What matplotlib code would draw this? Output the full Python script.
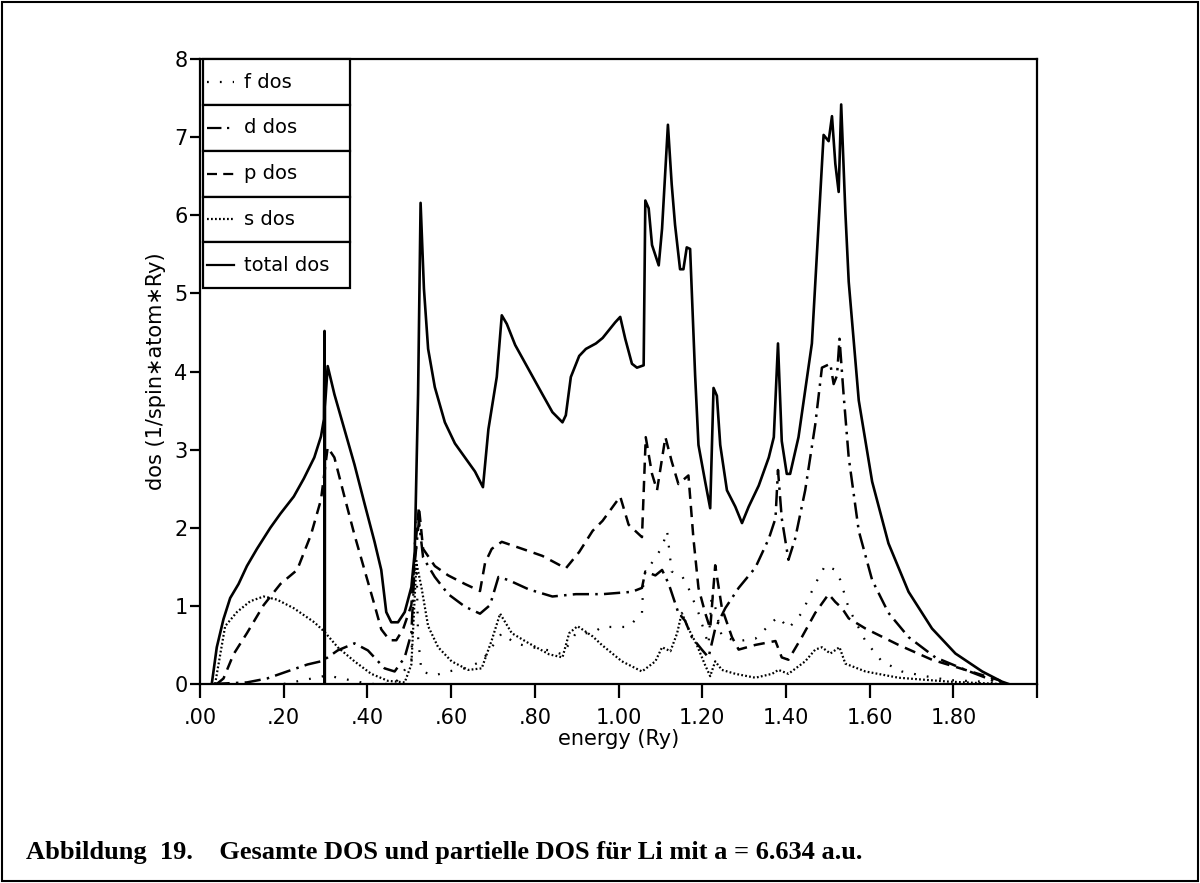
import matplotlib
matplotlib.use('Agg')
import matplotlib.pyplot as plt
from matplotlib.patches import Rectangle

# total dos
e_tot = [0.028, 0.040, 0.056, 0.072, 0.092, 0.112, 0.136, 0.168, 0.192, 0.224, 0.248, 0.273,
         0.289, 0.296, 0.2975, 0.298, 0.2985, 0.305, 0.321, 0.345, 0.369, 0.393, 0.417, 0.433,
         0.445, 0.457, 0.473, 0.489, 0.505, 0.513, 0.521, 0.527, 0.535, 0.545, 0.561, 0.585,
         0.609, 0.633, 0.657, 0.676, 0.689, 0.709, 0.721, 0.733, 0.753, 0.786, 0.818, 0.842,
         0.866, 0.874, 0.886, 0.906, 0.922, 0.946, 0.962, 0.992, 1.004, 1.016, 1.032, 1.044,
         1.060, 1.064, 1.072, 1.080, 1.096, 1.104, 1.118, 1.127, 1.135, 1.147, 1.155, 1.163,
         1.171, 1.183, 1.191, 1.207, 1.219, 1.227, 1.235, 1.243, 1.259, 1.279, 1.295, 1.311,
         1.335, 1.359, 1.371, 1.381, 1.390, 1.402, 1.410, 1.430, 1.462, 1.490, 1.502, 1.510,
         1.518, 1.526, 1.532, 1.542, 1.550, 1.574, 1.606, 1.645, 1.693, 1.749, 1.805, 1.869,
         1.916, 1.932]
dos_tot = [0.0, 0.47, 0.83, 1.10, 1.28, 1.51, 1.73, 2.00, 2.18, 2.40, 2.63, 2.90,
           3.17, 3.39, 4.52, 0.0, 3.55, 4.07, 3.71, 3.26, 2.81, 2.31, 1.82, 1.46,
           0.92, 0.79, 0.79, 0.92, 1.24, 1.69, 3.71, 6.16, 5.06, 4.29, 3.80, 3.35,
           3.08, 2.90, 2.72, 2.52, 3.26, 3.93, 4.72, 4.61, 4.34, 4.02, 3.71, 3.48,
           3.35, 3.44, 3.93, 4.20, 4.29, 4.36, 4.43, 4.63, 4.70, 4.42, 4.10, 4.05,
           4.08, 6.19, 6.09, 5.62, 5.36, 5.83, 7.16, 6.40, 5.88, 5.31, 5.31, 5.59,
           5.57, 3.95, 3.06, 2.59, 2.25, 3.79, 3.69, 3.06, 2.48, 2.27, 2.06, 2.27,
           2.54, 2.90, 3.16, 4.36, 3.11, 2.69, 2.69, 3.16, 4.36, 7.03, 6.95, 7.27,
           6.66, 6.30, 7.42, 6.04, 5.15, 3.63, 2.59, 1.80, 1.18, 0.71, 0.39, 0.16,
           0.03, 0.0]

# p dos
e_p = [0.040, 0.056, 0.080, 0.112, 0.152, 0.192, 0.232, 0.265, 0.289, 0.305, 0.321, 0.345,
       0.369, 0.393, 0.417, 0.433, 0.453, 0.469, 0.485, 0.505, 0.517, 0.523, 0.533, 0.561,
       0.593, 0.633, 0.669, 0.681, 0.697, 0.721, 0.770, 0.818, 0.874, 0.906, 0.938, 0.962,
       1.004, 1.024, 1.056, 1.065, 1.080, 1.092, 1.112, 1.127, 1.143, 1.167, 1.179, 1.191,
       1.207, 1.219, 1.231, 1.247, 1.271, 1.287, 1.327, 1.375, 1.390, 1.406, 1.438, 1.470,
       1.502, 1.518, 1.534, 1.550, 1.590, 1.669, 1.749, 1.829, 1.908, 1.924]
dos_p = [0.0, 0.07, 0.38, 0.65, 1.01, 1.28, 1.46, 1.91, 2.36, 3.03, 2.90, 2.40,
         1.91, 1.46, 1.01, 0.70, 0.56, 0.56, 0.70, 1.01, 1.91, 2.27, 1.73, 1.51,
         1.39, 1.28, 1.19, 1.55, 1.73, 1.82, 1.73, 1.64, 1.48, 1.69, 1.96, 2.09,
         2.40, 2.04, 1.88, 3.16, 2.69, 2.48, 3.16, 2.85, 2.56, 2.67, 1.86, 1.23,
         0.91, 0.71, 1.52, 0.97, 0.60, 0.44, 0.50, 0.55, 0.34, 0.31, 0.60, 0.91,
         1.15, 1.05, 0.97, 0.84, 0.71, 0.50, 0.31, 0.18, 0.05, 0.0]

# d dos
e_d = [0.032, 0.112, 0.160, 0.208, 0.257, 0.289, 0.305, 0.329, 0.369, 0.401, 0.441, 0.465,
       0.489, 0.505, 0.513, 0.523, 0.533, 0.561, 0.593, 0.633, 0.669, 0.693, 0.713, 0.737,
       0.786, 0.842, 0.898, 0.962, 1.032, 1.056, 1.064, 1.088, 1.104, 1.120, 1.143, 1.159,
       1.175, 1.199, 1.215, 1.231, 1.255, 1.287, 1.327, 1.359, 1.375, 1.381, 1.390, 1.406,
       1.422, 1.446, 1.470, 1.486, 1.506, 1.514, 1.522, 1.528, 1.538, 1.550, 1.574, 1.606,
       1.645, 1.693, 1.757, 1.829, 1.892, 1.916]
dos_d = [0.0, 0.02, 0.07, 0.16, 0.25, 0.29, 0.34, 0.43, 0.52, 0.43, 0.20, 0.16,
         0.34, 0.65, 1.55, 2.09, 1.62, 1.37, 1.15, 0.99, 0.90, 1.01, 1.37, 1.33,
         1.21, 1.12, 1.15, 1.15, 1.18, 1.23, 1.44, 1.39, 1.46, 1.28, 0.91, 0.81,
         0.60, 0.44, 0.34, 0.71, 0.97, 1.23, 1.49, 1.86, 2.12, 2.74, 2.12, 1.59,
         1.86, 2.48, 3.32, 4.05, 4.10, 3.84, 3.95, 4.42, 3.69, 2.90, 1.96, 1.33,
         0.91, 0.60, 0.34, 0.18, 0.05, 0.0]

# s dos
e_s = [0.036, 0.060, 0.088, 0.120, 0.152, 0.184, 0.224, 0.273, 0.297, 0.329, 0.369, 0.409,
       0.449, 0.489, 0.505, 0.517, 0.529, 0.545, 0.569, 0.601, 0.641, 0.673, 0.697, 0.717,
       0.745, 0.786, 0.834, 0.866, 0.882, 0.902, 0.938, 0.960, 1.008, 1.056, 1.088, 1.104,
       1.124, 1.140, 1.151, 1.167, 1.187, 1.207, 1.219, 1.231, 1.247, 1.279, 1.327, 1.367,
       1.382, 1.406, 1.446, 1.470, 1.486, 1.506, 1.528, 1.542, 1.590, 1.669, 1.789, 1.908]
dos_s = [0.0, 0.74, 0.92, 1.06, 1.12, 1.08, 0.97, 0.79, 0.67, 0.47, 0.29, 0.13,
         0.04, 0.02, 0.25, 1.55, 1.24, 0.74, 0.47, 0.29, 0.18, 0.20, 0.56, 0.90,
         0.65, 0.52, 0.38, 0.34, 0.65, 0.74, 0.61, 0.50, 0.29, 0.16, 0.29, 0.47,
         0.42, 0.65, 0.91, 0.71, 0.50, 0.24, 0.10, 0.29, 0.18, 0.13, 0.08, 0.13,
         0.18, 0.13, 0.29, 0.44, 0.47, 0.39, 0.47, 0.26, 0.16, 0.08, 0.03, 0.0]

# f dos
e_f = [0.20, 0.305, 0.337, 0.369, 0.401, 0.465, 0.505, 0.515, 0.521, 0.529, 0.561, 0.593,
       0.633, 0.673, 0.709, 0.721, 0.753, 0.794, 0.834, 0.866, 0.898, 0.938, 0.960, 1.024,
       1.056, 1.060, 1.104, 1.116, 1.127, 1.151, 1.167, 1.191, 1.215, 1.223, 1.247, 1.287,
       1.327, 1.371, 1.382, 1.406, 1.438, 1.470, 1.494, 1.518, 1.530, 1.550, 1.590, 1.629,
       1.677, 1.733, 1.789, 1.869, 1.924]
dos_f = [0.0, 0.11, 0.07, 0.04, 0.0, 0.0, 0.30, 2.10, 0.60, 0.16, 0.11, 0.16,
         0.20, 0.29, 0.56, 0.65, 0.52, 0.47, 0.43, 0.38, 0.65, 0.65, 0.73, 0.73,
         0.91, 1.39, 1.75, 1.96, 1.44, 1.39, 1.23, 0.91, 0.50, 1.18, 0.60, 0.55,
         0.58, 0.81, 0.86, 0.71, 0.91, 1.28, 1.52, 1.46, 1.33, 0.97, 0.55, 0.29,
         0.16, 0.10, 0.05, 0.03, 0.0]

x_ticks = [0.0, 0.2, 0.4, 0.6, 0.8, 1.0, 1.2, 1.4, 1.6, 1.8, 2.0]
x_labels = ['.00', '.20', '.40', '.60', '.80', '1.00', '1.20', '1.40', '1.60', '1.80', '']
y_ticks = [0, 1, 2, 3, 4, 5, 6, 7, 8]

legend_names = ['f dos', 'd dos', 'p dos', 's dos', 'total dos']

sty_f = (0, (0.8, 5.0))
sty_d = (0, (6.5, 2.5, 1.0, 2.5))
sty_p = (0, (4.5, 2.8))
sty_s = (0, (0.8, 1.0))
sty_t = '-'
styles = [sty_f, sty_d, sty_p, sty_s, sty_t]

plt.rcParams['font.family'] = ['DejaVu Sans']

fig = plt.figure(figsize=(12, 8.83), dpi=100)
ax = fig.add_axes([0.1667, 0.2254, 0.6975, 0.7076])

ax.plot(e_f, dos_f, color='black', lw=1.6, linestyle=sty_f)
ax.plot(e_s, dos_s, color='black', lw=1.6, linestyle=sty_s)
ax.plot(e_d, dos_d, color='black', lw=1.8, linestyle=sty_d)
ax.plot(e_p, dos_p, color='black', lw=1.8, linestyle=sty_p)
ax.plot(e_tot, dos_tot, color='black', lw=1.9, linestyle=sty_t)

ax.set_xlim(0, 2.0)
ax.set_ylim(0, 8)
ax.set_xticks(x_ticks)
ax.set_xticklabels(x_labels)
ax.set_yticks(y_ticks)
ax.tick_params(axis='x', direction='out', length=10, width=1.6, labelsize=15, pad=7)
ax.tick_params(axis='y', direction='out', length=7, width=1.6, labelsize=15, pad=2)
for sp in ax.spines.values():
    sp.set_linewidth(1.6)

ax.set_xlabel('energy (Ry)', fontsize=15, labelpad=1)
ax.set_ylabel('dos (1/spin\u2217atom\u2217Ry)', fontsize=15, labelpad=6)

# legend boxes drawn in axes fraction
lx0, lx1 = 0.003, 0.179
row_h = 0.0733
for i, (name, sty) in enumerate(zip(legend_names, styles)):
    top = 1.0 - i * row_h
    ax.add_patch(Rectangle((lx0, top - row_h), lx1 - lx0, row_h, transform=ax.transAxes,
                           fill=True, facecolor='white', edgecolor='black', lw=1.6,
                           clip_on=False, zorder=5))
    yc = top - row_h / 2
    ax.plot([0.008, 0.040], [yc, yc], transform=ax.transAxes, color='black', lw=1.6,
            linestyle=sty, clip_on=False, zorder=6)
    ax.text(0.052, yc, name, transform=ax.transAxes, fontsize=14, va='center',
            ha='left', zorder=6)

fig.text(0.022, 0.034, 'Abbildung  19.    Gesamte DOS und partielle DOS f\u00fcr Li mit a = 6.634 a.u.',
         fontsize=19, fontweight='bold', family='Liberation Serif', ha='left', va='center')

fig.patches.append(Rectangle((0.002, 0.002), 0.996, 0.996, transform=fig.transFigure,
                             fill=False, edgecolor='black', lw=1.5))

fig.savefig('out.png', dpi=100)
